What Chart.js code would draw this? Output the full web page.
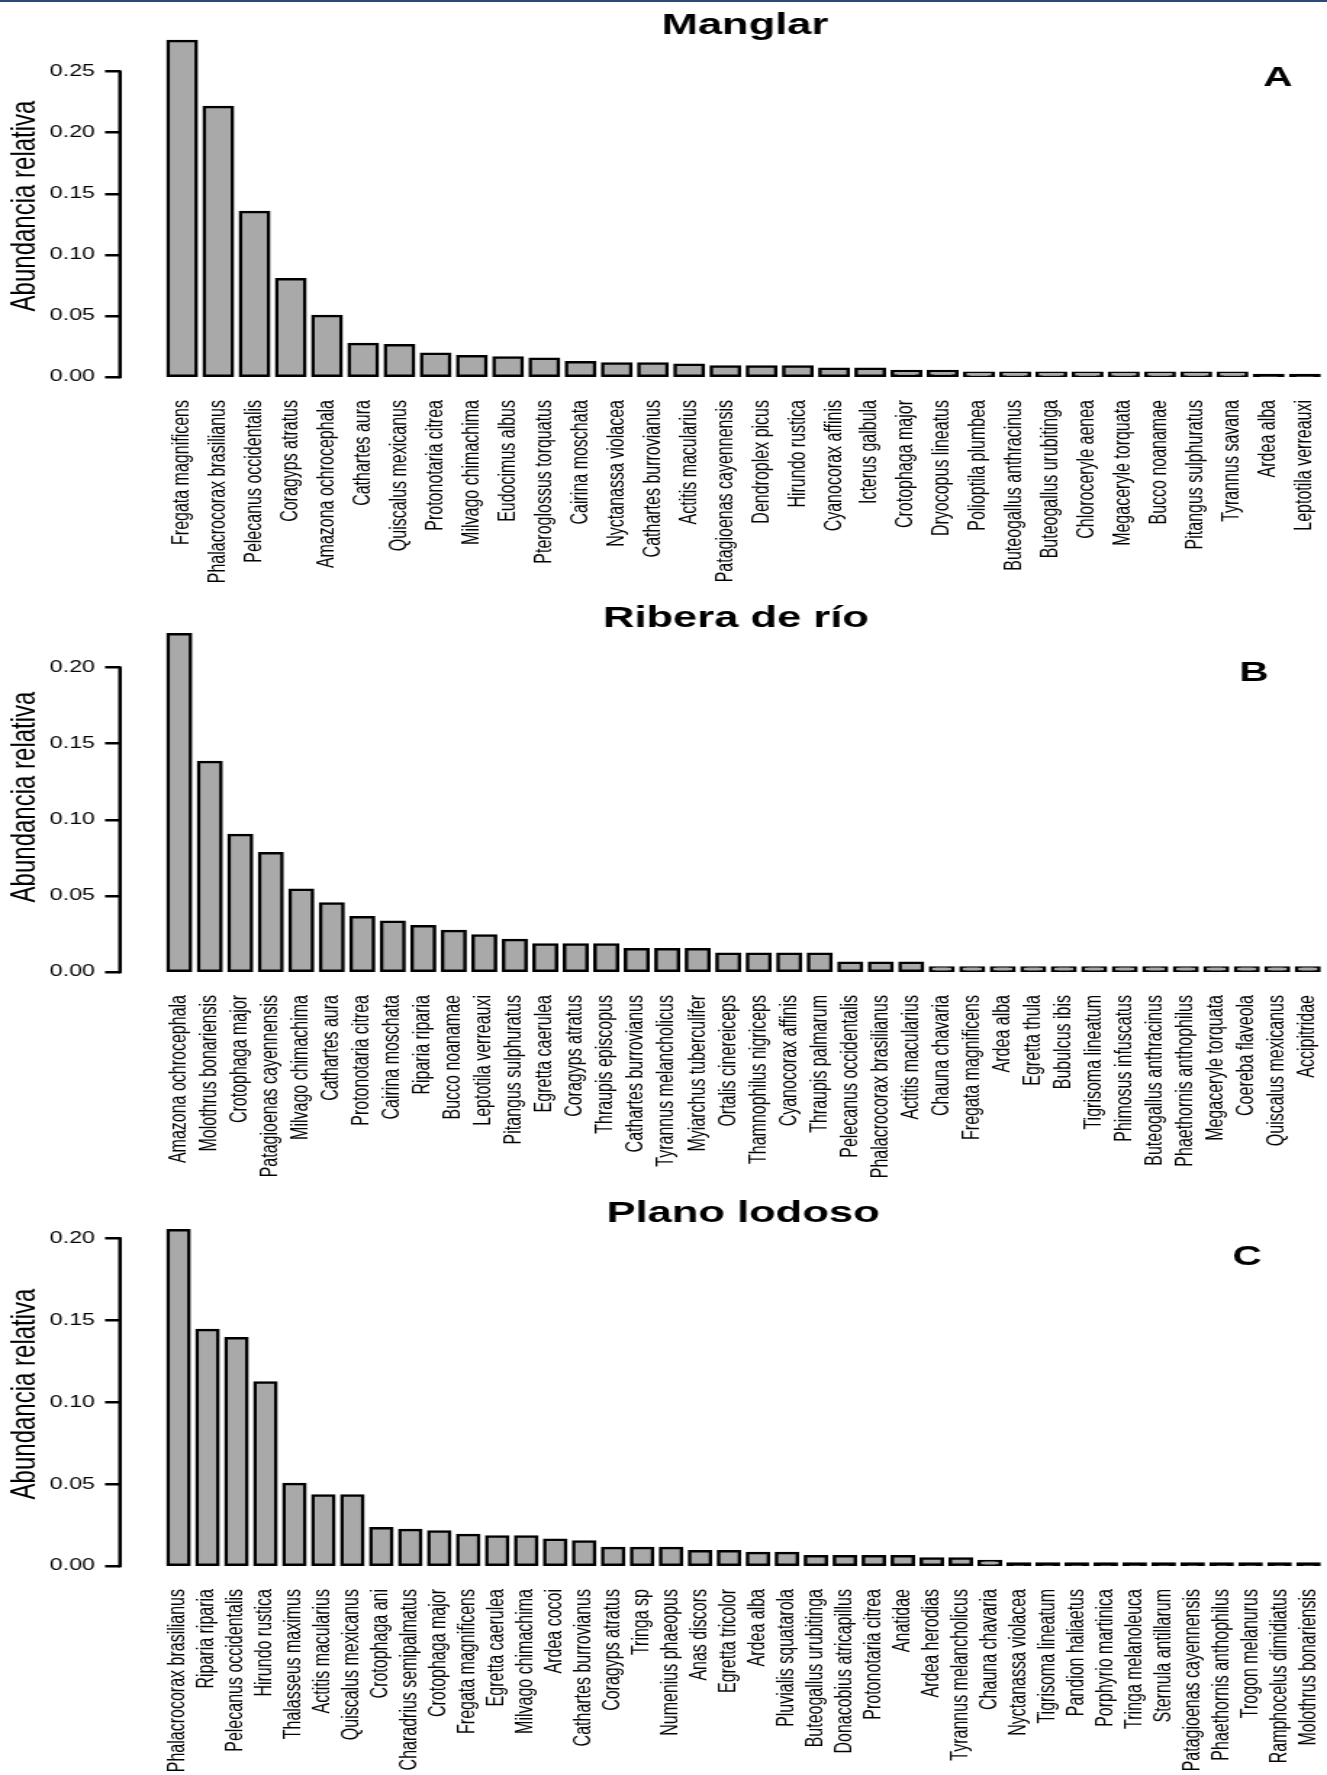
<!DOCTYPE html>
<html lang="es">
<head>
<meta charset="utf-8">
<title>Abundancia relativa por hábitat</title>
<script src="https://cdn.jsdelivr.net/npm/chart.js@4.4.1/dist/chart.umd.min.js"></script>
<style>
  html, body { margin: 0; padding: 0; background: #fff; overflow: hidden; }
  #figure { position: relative; width: 1327px; height: 1775px; overflow: hidden; }
  #figure canvas { position: absolute; left: 0; }
  #figure .rule { position: absolute; left: 0; top: 0; width: 100%; height: 2px; background: #2c4a78; }
</style>
</head>
<body>
<div id="figure">
  <!-- canvases are drawn narrower and shown 1327px wide: the source figure is stretched sideways -->
  <canvas id="chartManglar" width="915" height="590" style="top:0;width:1327px;height:590px"></canvas>
  <canvas id="chartRibera" width="915" height="590" style="top:590px;width:1327px;height:590px"></canvas>
  <canvas id="chartPlano" width="915" height="595" style="top:1180px;width:1327px;height:595px"></canvas>
  <div class="rule"></div>
</div>
<script>
// ---------- Data ----------
const MANGLAR_SPECIES = [
  'Fregata magnificens', 'Phalacrocorax brasilianus', 'Pelecanus occidentalis', 'Coragyps atratus',
  'Amazona ochrocephala', 'Cathartes aura', 'Quiscalus mexicanus', 'Protonotaria citrea',
  'Milvago chimachima', 'Eudocimus albus', 'Pteroglossus torquatus', 'Cairina moschata',
  'Nyctanassa violacea', 'Cathartes burrovianus', 'Actitis macularius', 'Patagioenas cayennensis',
  'Dendroplex picus', 'Hirundo rustica', 'Cyanocorax affinis', 'Icterus galbula',
  'Crotophaga major', 'Dryocopus lineatus', 'Polioptila plumbea', 'Buteogallus anthracinus',
  'Buteogallus urubitinga', 'Chloroceryle aenea', 'Megaceryle torquata', 'Bucco noanamae',
  'Pitangus sulphuratus', 'Tyrannus savana', 'Ardea alba', 'Leptotila verreauxi'
];
const MANGLAR_VALUES = [
  0.275, 0.221, 0.135, 0.080, 0.050, 0.027, 0.026, 0.019,
  0.017, 0.016, 0.015, 0.012, 0.011, 0.011, 0.010, 0.0085,
  0.0085, 0.0085, 0.0068, 0.0068, 0.005, 0.005, 0.0034, 0.0034,
  0.0034, 0.0034, 0.0034, 0.0034, 0.0034, 0.0034, 0.0017, 0.0017
];

const RIBERA_SPECIES = [
  'Amazona ochrocephala', 'Molothrus bonariensis', 'Crotophaga major', 'Patagioenas cayennensis',
  'Milvago chimachima', 'Cathartes aura', 'Protonotaria citrea', 'Cairina moschata',
  'Riparia riparia', 'Bucco noanamae', 'Leptotila verreauxi', 'Pitangus sulphuratus',
  'Egretta caerulea', 'Coragyps atratus', 'Thraupis episcopus', 'Cathartes burrovianus',
  'Tyrannus melancholicus', 'Myiarchus tuberculifer', 'Ortalis cinereiceps', 'Thamnophilus nigriceps',
  'Cyanocorax affinis', 'Thraupis palmarum', 'Pelecanus occidentalis', 'Phalacrocorax brasilianus',
  'Actitis macularius', 'Chauna chavaria', 'Fregata magnificens', 'Ardea alba',
  'Egretta thula', 'Bubulcus ibis', 'Tigrisoma lineatum', 'Phimosus infuscatus',
  'Buteogallus anthracinus', 'Phaethornis anthophilus', 'Megaceryle torquata', 'Coereba flaveola',
  'Quiscalus mexicanus', 'Accipitridae'
];
const RIBERA_VALUES = [
  0.222, 0.138, 0.090, 0.078, 0.054, 0.045, 0.036, 0.033,
  0.030, 0.027, 0.024, 0.021, 0.018, 0.018, 0.018, 0.015,
  0.015, 0.015, 0.012, 0.012, 0.012, 0.012, 0.006, 0.006,
  0.006, 0.003, 0.003, 0.003, 0.003, 0.003, 0.003, 0.003,
  0.003, 0.003, 0.003, 0.003, 0.003, 0.003
];

const PLANO_SPECIES = [
  'Phalacrocorax brasilianus', 'Riparia riparia', 'Pelecanus occidentalis', 'Hirundo rustica',
  'Thalasseus maximus', 'Actitis macularius', 'Quiscalus mexicanus', 'Crotophaga ani',
  'Charadrius semipalmatus', 'Crotophaga major', 'Fregata magnificens', 'Egretta caerulea',
  'Milvago chimachima', 'Ardea cocoi', 'Cathartes burrovianus', 'Coragyps atratus',
  'Tringa sp', 'Numenius phaeopus', 'Anas discors', 'Egretta tricolor',
  'Ardea alba', 'Pluvialis squatarola', 'Buteogallus urubitinga', 'Donacobius atricapillus',
  'Protonotaria citrea', 'Anatidae', 'Ardea herodias', 'Tyrannus melancholicus',
  'Chauna chavaria', 'Nyctanassa violacea', 'Tigrisoma lineatum', 'Pandion haliaetus',
  'Porphyrio martinica', 'Tringa melanoleuca', 'Sternula antillarum', 'Patagioenas cayennensis',
  'Phaethornis anthophilus', 'Trogon melanurus', 'Ramphocelus dimidiatus', 'Molothrus bonariensis'
];
const PLANO_VALUES = [
  0.205, 0.144, 0.139, 0.112, 0.050, 0.043, 0.043, 0.023,
  0.022, 0.021, 0.019, 0.018, 0.018, 0.016, 0.015, 0.011,
  0.011, 0.011, 0.009, 0.009, 0.008, 0.008, 0.006, 0.006,
  0.006, 0.006, 0.0046, 0.0046, 0.003, 0.0015, 0.0015, 0.0015,
  0.0015, 0.0015, 0.0015, 0.0015, 0.0015, 0.0015, 0.0015, 0.0015
];

const Y_TICKS_MANGLAR = [0, 0.05, 0.10, 0.15, 0.20, 0.25];
const Y_TICKS_RIBERA = [0, 0.05, 0.10, 0.15, 0.20];
const Y_TICKS_PLANO = [0, 0.05, 0.10, 0.15, 0.20];

// ---------- Layout helpers ----------
const PAGE_W = 1327;
const STRETCH = PAGE_W / 915;            // canvas px -> page px, horizontally
const toCanvasX = (x) => x / STRETCH;

const FONT = "'Liberation Sans', Arial, Helvetica, sans-serif";
Chart.defaults.font.family = FONT;
Chart.defaults.color = '#000';

const AXIS_X = 120;        // page x of the y axis
const SLOTS_LEFT = 164;    // page x where the first bar slot starts
const SLOTS_RIGHT = 1323;  // page x where the last bar slot ends
const BAR_GAP = 4.3;       // white gap between bars, page px
const BAR_LW = 2.5;        // outline width; R centres it on the bar edge
const BAR_FILL = '#a9a9a9';
const BAR_LINE = '#000';

// R style axis: the line only spans the first..last tick
const rAxisLine = {
  id: 'rAxisLine',
  afterDraw(chart) {
    const y = chart.scales.y;
    const top = y.getPixelForValue(y.ticks[y.ticks.length - 1].value);
    const bottom = y.getPixelForValue(y.ticks[0].value);
    const ctx = chart.ctx;
    ctx.save();
    ctx.strokeStyle = '#000';
    ctx.lineWidth = 2.5;
    ctx.lineCap = 'square';
    ctx.beginPath();
    ctx.moveTo(chart.chartArea.left, bottom);
    ctx.lineTo(chart.chartArea.left, top);
    ctx.stroke();
    ctx.restore();
  }
};

// panel title and the A/B/C letter
const panelText = {
  id: 'panelText',
  afterDraw(chart, args, opts) {
    const ctx = chart.ctx;
    ctx.save();
    ctx.fillStyle = '#000';
    ctx.textAlign = 'center';
    ctx.textBaseline = 'alphabetic';
    ctx.font = `bold 30px ${FONT}`;
    ctx.fillText(opts.title, toCanvasX(opts.titleX), opts.titleY);
    ctx.font = `bold 28px ${FONT}`;
    ctx.fillText(opts.letter, toCanvasX(opts.letterX), opts.letterY);
    ctx.restore();
  }
};

// bars thinner than the outline come out solid black, as in R
function barFill(c) {
  const y = c.chart.scales.y;
  if (!y || !c.parsed) return BAR_FILL;
  const h = y.getPixelForValue(0) - y.getPixelForValue(c.parsed.y);
  return h < BAR_LW ? BAR_LINE : BAR_FILL;
}

function makePanel(canvasId, p) {
  const n = p.species.length;
  const pitch = (SLOTS_RIGHT - SLOTS_LEFT) / n;
  const xMin = -0.5 - (SLOTS_LEFT - AXIS_X) / pitch;
  const xMax = n - 0.5 + (PAGE_W - SLOTS_RIGHT) / pitch;
  const outlineSpread = BAR_LW * STRETCH;   // inflate adds half the outline on each side

  return new Chart(document.getElementById(canvasId), {
    type: 'bar',
    data: {
      datasets: [{
        data: p.values.map((v, i) => ({ x: i, y: v })),
        backgroundColor: barFill,
        borderColor: BAR_LINE,
        borderWidth: BAR_LW,
        inflateAmount: BAR_LW / 2,
        borderSkipped: false,
        categoryPercentage: 1,
        barPercentage: 1 - (BAR_GAP + outlineSpread) / pitch
      }]
    },
    options: {
      responsive: false,
      animation: false,
      events: [],
      layout: { padding: { top: p.padTop, left: 0, right: 0, bottom: 0 } },
      plugins: {
        legend: { display: false },
        tooltip: { enabled: false },
        panelText: p.text
      },
      scales: {
        x: {
          type: 'linear',
          offset: false,
          min: xMin,
          max: xMax,
          grid: { display: false, drawTicks: false },
          border: { display: false },
          ticks: {
            autoSkip: false,
            minRotation: 90,
            maxRotation: 90,
            padding: 23,
            font: { size: 16 },
            color: '#000',
            callback: (v) => p.species[v] ?? ''
          },
          afterBuildTicks: (s) => { s.ticks = p.species.map((_, i) => ({ value: i })); },
          afterFit: (s) => {
            s.height = p.height - p.plotBottom;
            s.paddingLeft = 0;
            s.paddingRight = 0;
          }
        },
        y: {
          min: 0,
          max: p.yMax,
          grid: {
            drawOnChartArea: false,
            drawTicks: true,
            tickLength: toCanvasX(15),
            color: '#000',
            lineWidth: 2.5
          },
          border: { display: false },
          ticks: {
            padding: toCanvasX(10),
            font: { size: 16 },
            color: '#000',
            callback: (v) => v.toFixed(2)
          },
          afterBuildTicks: (s) => { s.ticks = p.yTicks.map(v => ({ value: v })); },
          title: {
            display: true,
            text: 'Abundancia relativa',
            font: { size: 24 },
            color: '#000',
            padding: { top: 3, bottom: 0 }
          },
          afterFit: (s) => {
            s.width = toCanvasX(AXIS_X);
            s.paddingTop = 0;
            s.paddingBottom = 0;
          }
        }
      }
    },
    plugins: [rAxisLine, panelText]
  });
}

// ---------- Init ----------
makePanel('chartManglar', {
  species: MANGLAR_SPECIES, values: MANGLAR_VALUES, yTicks: Y_TICKS_MANGLAR,
  yMax: 0.28, padTop: 35, plotBottom: 377, height: 590,
  text: { title: 'Manglar', titleX: 745, titleY: 33.5, letter: 'A', letterX: 1278, letterY: 85.5 }
});
makePanel('chartRibera', {
  species: RIBERA_SPECIES, values: RIBERA_VALUES, yTicks: Y_TICKS_RIBERA,
  yMax: 0.23, padTop: 32, plotBottom: 382, height: 590,
  text: { title: 'Ribera de río', titleX: 736, titleY: 36.7, letter: 'B', letterX: 1254, letterY: 90.5 }
});
makePanel('chartPlano', {
  species: PLANO_SPECIES, values: PLANO_VALUES, yTicks: Y_TICKS_PLANO,
  yMax: 0.21, padTop: 42, plotBottom: 386, height: 595,
  text: { title: 'Plano lodoso', titleX: 743, titleY: 41.7, letter: 'C', letterX: 1247, letterY: 84.5 }
});
</script>
</body>
</html>
